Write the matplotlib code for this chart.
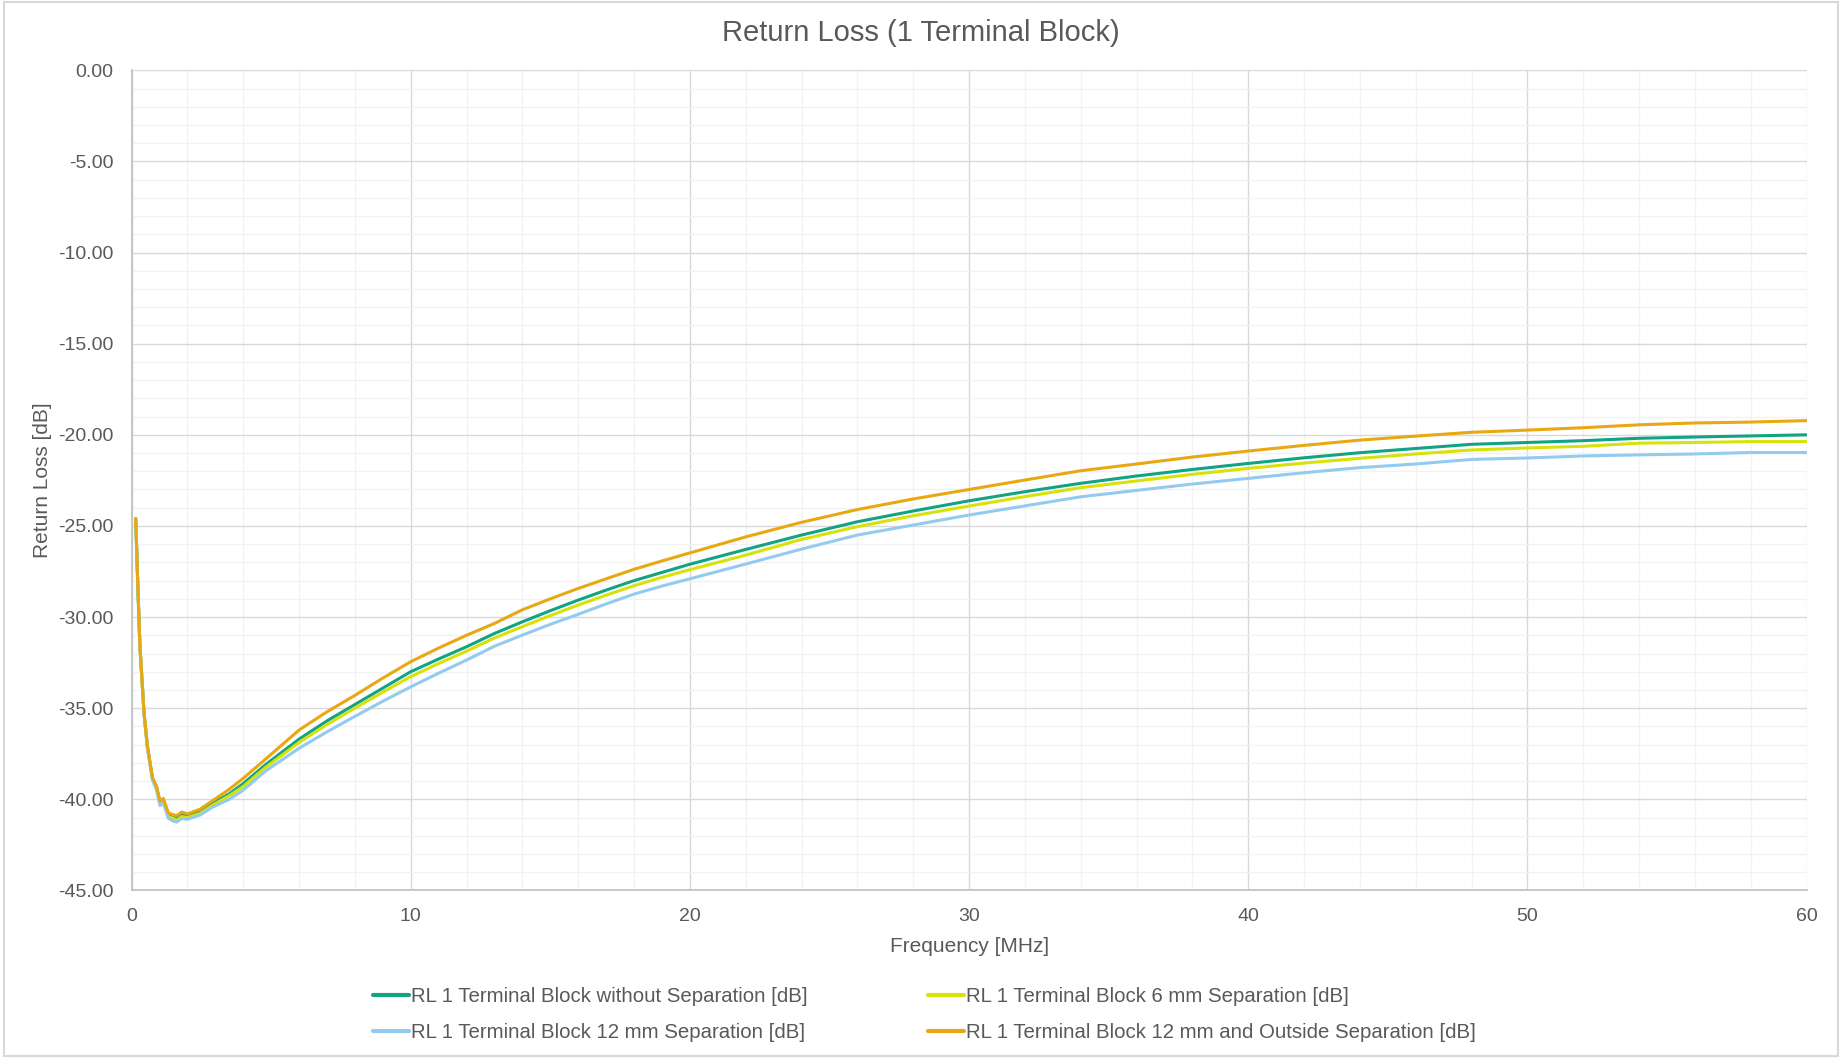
import matplotlib
matplotlib.use("Agg")
from matplotlib import pyplot as plt
from matplotlib.patches import Rectangle
from matplotlib.ticker import MultipleLocator, FormatStrFormatter

plt.rcParams["font.family"] = ["Liberation Sans", "DejaVu Sans"]

# frequency points [MHz]
freq = [0.15, 0.22, 0.3, 0.45, 0.57, 0.75, 0.9, 1.02, 1.14, 1.32, 1.5, 1.62, 1.8, 2.0,
        2.45, 2.93, 3.5, 4.0, 4.8, 6, 7, 8, 9, 10, 11, 12, 13, 14, 15, 16, 17, 18, 19,
        20, 22, 24, 26, 28, 30, 32, 34, 36, 38, 40, 42, 44, 46, 48, 50, 52, 54, 56, 58, 60]

# return loss [dB]
rl_no_sep = [-24.6, -28.0, -31.6, -35.3, -37.1, -38.85, -39.35, -40.2, -40.05, -40.85,
             -40.95, -41.05, -40.85, -40.92, -40.68, -40.2, -39.7, -39.14, -38.1, -36.7,
             -35.7, -34.8, -33.9, -33.0, -32.3, -31.63, -30.9, -30.26, -29.65, -29.07,
             -28.52, -28.0, -27.55, -27.1, -26.29, -25.5, -24.77, -24.18, -23.62, -23.12,
             -22.66, -22.26, -21.9, -21.57, -21.26, -20.98, -20.75, -20.52, -20.42, -20.32,
             -20.19, -20.12, -20.06, -20.0]
rl_6mm = [-24.6, -28.0, -31.6, -35.3, -37.15, -38.9, -39.4, -40.25, -40.1, -40.95,
          -41.05, -41.15, -40.95, -41.0, -40.78, -40.3, -39.8, -39.3, -38.25, -36.88,
          -35.9, -35.0, -34.12, -33.27, -32.55, -31.87, -31.15, -30.53, -29.92, -29.34,
          -28.8, -28.28, -27.82, -27.4, -26.6, -25.74, -25.04, -24.44, -23.91, -23.39,
          -22.9, -22.53, -22.17, -21.84, -21.55, -21.29, -21.05, -20.83, -20.72, -20.63,
          -20.46, -20.42, -20.37, -20.37]
rl_12mm = [-24.6, -28.0, -31.6, -35.35, -37.2, -38.95, -39.5, -40.35, -40.2, -41.05,
           -41.2, -41.25, -41.05, -41.1, -40.87, -40.41, -40.0, -39.5, -38.45, -37.2,
           -36.3, -35.45, -34.62, -33.83, -33.08, -32.36, -31.6, -30.99, -30.4, -29.85,
           -29.28, -28.74, -28.3, -27.9, -27.09, -26.27, -25.5, -24.95, -24.4, -23.9,
           -23.4, -23.05, -22.7, -22.39, -22.08, -21.8, -21.6, -21.35, -21.27, -21.16,
           -21.1, -21.05, -20.97, -20.97]
rl_12mm_out = [-24.6, -28.0, -31.6, -35.3, -37.1, -38.8, -39.3, -40.1, -39.95, -40.75,
               -40.85, -40.9, -40.7, -40.8, -40.55, -40.05, -39.45, -38.85, -37.8, -36.2,
               -35.2, -34.3, -33.35, -32.45, -31.7, -31.0, -30.35, -29.6, -29.0, -28.43,
               -27.9, -27.38, -26.92, -26.48, -25.6, -24.8, -24.1, -23.52, -23.0, -22.48,
               -21.97, -21.6, -21.22, -20.89, -20.58, -20.29, -20.07, -19.86, -19.74, -19.61,
               -19.45, -19.35, -19.3, -19.22]

labels = ["RL 1 Terminal Block without Separation [dB]",
          "RL 1 Terminal Block 6 mm Separation [dB]",
          "RL 1 Terminal Block 12 mm Separation [dB]",
          "RL 1 Terminal Block 12 mm and Outside Separation [dB]"]
colors = ["#12A383", "#D7E20A", "#92CBEF", "#E8A811"]

text_color = "#595959"

fig = plt.figure(figsize=(18.42, 10.58), dpi=100)
ax = fig.add_axes([0.0714, 0.1584, 0.9094, 0.7751])

handles = []
for ys, lab, c in zip([rl_no_sep, rl_6mm, rl_12mm, rl_12mm_out], labels, colors):
    h, = ax.plot(freq, ys, color=c, linewidth=2.2, label=lab, solid_capstyle="round")
    handles.append(h)

ax.set_xlim(0, 60)
ax.set_ylim(-45, 0)
ax.xaxis.set_major_locator(MultipleLocator(10))
ax.xaxis.set_minor_locator(MultipleLocator(2))
ax.yaxis.set_major_locator(MultipleLocator(5))
ax.yaxis.set_minor_locator(MultipleLocator(1))
ax.yaxis.set_major_formatter(FormatStrFormatter("%.2f"))

ax.grid(which="major", color="#D9D9D9", linewidth=1.0)
ax.grid(which="minor", color="#F2F2F2", linewidth=1.0)
ax.set_axisbelow(True)

for s in ["top", "right"]:
    ax.spines[s].set_visible(False)
for s in ["left", "bottom"]:
    ax.spines[s].set_color("#BFBFBF")
    ax.spines[s].set_linewidth(1.2)

ax.tick_params(which="both", length=0)
ax.tick_params(axis="x", pad=13, labelsize=14, labelcolor=text_color)
ax.tick_params(axis="y", pad=13, labelsize=14, labelcolor=text_color)

ax.set_xlabel("Frequency [MHz]", fontsize=15, color=text_color, labelpad=8)
ax.set_ylabel("Return Loss [dB]", fontsize=15, color=text_color, labelpad=4.5)

fig.text(0.5, 1 - 33 / 1058, "Return Loss (1 Terminal Block)", fontsize=21,
         color=text_color, ha="center", va="center")

# legend order: column 1 = green, blue; column 2 = yellow, orange
leg_order = [0, 2, 1, 3]
fig.legend([handles[i] for i in leg_order], [labels[i] for i in leg_order],
           loc="center", bbox_to_anchor=(0.502, 0.0412), ncol=2, frameon=False,
           fontsize=14.7, labelcolor=text_color, handlelength=1.75, handletextpad=0.1,
           columnspacing=5.9, labelspacing=0.85)
for h in fig.legends[0].legend_handles:
    h.set_linewidth(3)

# outer chart border
fig.patches.append(Rectangle((0.002, 0.002), 0.996, 0.996, transform=fig.transFigure,
                             fill=False, edgecolor="#D9D9D9", linewidth=1.5))

fig.savefig("out.png", dpi=100)
